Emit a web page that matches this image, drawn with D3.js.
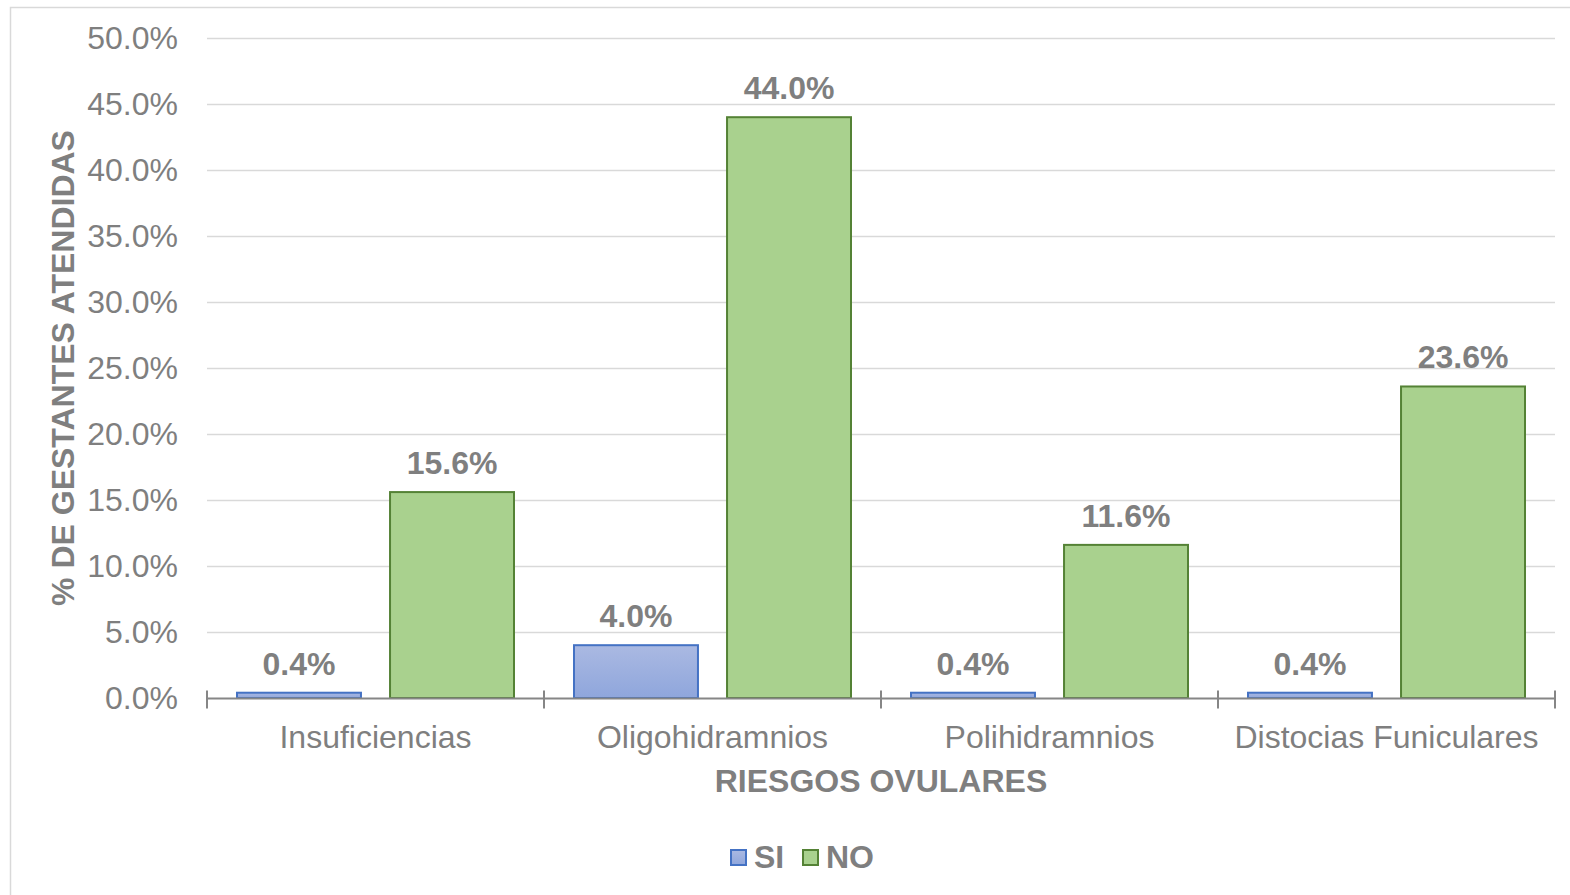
<!DOCTYPE html>
<html>
<head>
<meta charset="utf-8">
<script src="https://cdn.jsdelivr.net/npm/d3@7"></script>
<style>
  html, body { margin: 0; padding: 0; background: #fff; }
  svg { display: block; font-family: "Liberation Sans", Arial, sans-serif; }
</style>
</head>
<body>
<div id="chart"></div>
<script>
// datos del gráfico
const categorias = ["Insuficiencias", "Oligohidramnios", "Polihidramnios", "Distocias Funiculares"];
const series = ["SI", "NO"];
const valoresSI = [0.4, 4.0, 0.4, 0.4];
const valoresNO = [15.6, 44.0, 11.6, 23.6];
const ticksY = [0, 5, 10, 15, 20, 25, 30, 35, 40, 45, 50];

const width = 1570, height = 895;
const margin = { left: 207, right: 15, top: 38, bottom: 197 };
const fs = 32;

const svg = d3.select("#chart").append("svg")
  .attr("width", width).attr("height", height);

const defs = svg.append("defs");
const grad = defs.append("linearGradient").attr("id", "gradSI")
  .attr("x1", 0).attr("y1", 0).attr("x2", 0).attr("y2", 1);
grad.append("stop").attr("offset", "0%").attr("stop-color", "#aab9e2");
grad.append("stop").attr("offset", "100%").attr("stop-color", "#8fa6dc");

// borde exterior
svg.append("rect")
  .attr("x", 10.5).attr("y", 7.5)
  .attr("width", width).attr("height", height)
  .attr("fill", "none").attr("stroke", "#d9d9d9").attr("stroke-width", 1.5);

const x0 = d3.scaleBand().domain(categorias)
  .range([margin.left, width - margin.right]).padding(0);
const x1 = d3.scaleBand().domain(series)
  .range([30, x0.bandwidth() - 30]).paddingInner(0.19);
const y = d3.scaleLinear().domain([0, 50])
  .range([height - margin.bottom, margin.top]);

const gris = "#7f7f7f";

// líneas de cuadrícula
svg.append("g").selectAll("line")
  .data(ticksY.filter(d => d > 0))
  .join("line")
  .attr("x1", margin.left).attr("x2", width - margin.right)
  .attr("y1", d => Math.round(y(d)) + 0.5).attr("y2", d => Math.round(y(d)) + 0.5)
  .attr("stroke", "#d9d9d9").attr("stroke-width", 1.5);

// etiquetas eje Y
svg.append("g").selectAll("text")
  .data(ticksY)
  .join("text")
  .attr("x", 178).attr("y", d => y(d) + 11)
  .attr("text-anchor", "end")
  .attr("font-size", fs).attr("fill", gris)
  .text(d => d.toFixed(1) + "%");

// barras
const filas = categorias.map((c, i) => ({ cat: c, SI: valoresSI[i], NO: valoresNO[i] }));
const grupos = svg.append("g").selectAll("g")
  .data(filas)
  .join("g")
  .attr("transform", d => `translate(${x0(d.cat)},0)`);

const estilos = {
  SI: { fill: "url(#gradSI)", stroke: "#4472c4" },
  NO: { fill: "#a9d18e", stroke: "#548235" }
};

grupos.selectAll("rect")
  .data(d => series.map(s => ({ s, v: d[s] })))
  .join("rect")
  .attr("x", d => x1(d.s))
  .attr("y", d => y(d.v))
  .attr("width", x1.bandwidth())
  .attr("height", d => y(0) - y(d.v))
  .attr("fill", d => estilos[d.s].fill)
  .attr("stroke", d => estilos[d.s].stroke)
  .attr("stroke-width", 2);

grupos.selectAll("text")
  .data(d => series.map(s => ({ s, v: d[s] })))
  .join("text")
  .attr("x", d => x1(d.s) + x1.bandwidth() / 2)
  .attr("y", d => y(d.v) - 18)
  .attr("text-anchor", "middle")
  .attr("font-size", fs).attr("font-weight", "bold").attr("fill", gris)
  .text(d => d.v.toFixed(1) + "%");

// eje X
const y0 = Math.round(y(0)) + 0.5;
svg.append("line")
  .attr("x1", margin.left).attr("x2", width - margin.right)
  .attr("y1", y0).attr("y2", y0)
  .attr("stroke", "#868686").attr("stroke-width", 2);

const bordes = categorias.map(c => x0(c)).concat([width - margin.right]);
svg.append("g").selectAll("line")
  .data(bordes)
  .join("line")
  .attr("x1", d => d).attr("x2", d => d)
  .attr("y1", y0 - 8).attr("y2", y0 + 10)
  .attr("stroke", "#868686").attr("stroke-width", 2);

svg.append("g").selectAll("text")
  .data(categorias)
  .join("text")
  .attr("x", d => x0(d) + x0.bandwidth() / 2)
  .attr("y", 748)
  .attr("text-anchor", "middle")
  .attr("font-size", fs).attr("fill", gris)
  .text(d => d);

// títulos de ejes
svg.append("text")
  .attr("x", (margin.left + width - margin.right) / 2)
  .attr("y", 792)
  .attr("text-anchor", "middle")
  .attr("font-size", fs).attr("font-weight", "bold").attr("fill", gris)
  .text("RIESGOS OVULARES");

svg.append("text")
  .attr("transform", `translate(74,${(y(0) + y(50)) / 2}) rotate(-90)`)
  .attr("text-anchor", "middle")
  .attr("font-size", fs).attr("font-weight", "bold").attr("fill", gris)
  .text("% DE GESTANTES ATENDIDAS");

// leyenda
const leyenda = svg.append("g").selectAll("g")
  .data(series)
  .join("g")
  .attr("transform", (d, i) => `translate(${731 + i * 72},850)`);
leyenda.append("rect")
  .attr("width", 15).attr("height", 15)
  .attr("fill", d => estilos[d].fill)
  .attr("stroke", d => estilos[d].stroke).attr("stroke-width", 2);
leyenda.append("text")
  .attr("x", 23).attr("y", 18)
  .attr("font-size", fs).attr("font-weight", "bold").attr("fill", gris)
  .text(d => d);
</script>
</body>
</html>
